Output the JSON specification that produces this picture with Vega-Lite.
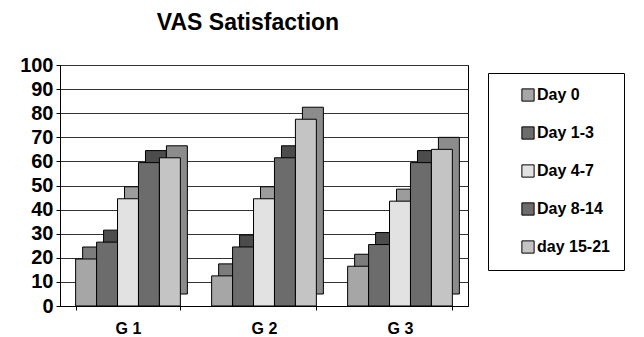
{
  "$schema": "https://vega.github.io/schema/vega-lite/v6.json",
  "width": 408,
  "height": 241,
  "autosize": {"type": "none"},
  "padding": {"left": 60, "top": 65, "right": 176, "bottom": 31},
  "background": "white",
  "title": {"text": "VAS Satisfaction", "fontSize": 23, "font": "Liberation Sans", "fontWeight": "bold", "anchor": "middle", "dx": -16, "offset": 20, "color": "black"},
  "data": {"values": [
    {"group": "G 1", "period": "Day 0", "value": 19.5},
    {"group": "G 1", "period": "Day 1-3", "value": 26.5},
    {"group": "G 1", "period": "Day 4-7", "value": 44.5},
    {"group": "G 1", "period": "Day 8-14", "value": 59.5},
    {"group": "G 1", "period": "day 15-21", "value": 61.5},
    {"group": "G 2", "period": "Day 0", "value": 12.5},
    {"group": "G 2", "period": "Day 1-3", "value": 24.5},
    {"group": "G 2", "period": "Day 4-7", "value": 44.5},
    {"group": "G 2", "period": "Day 8-14", "value": 61.5},
    {"group": "G 2", "period": "day 15-21", "value": 77.5},
    {"group": "G 3", "period": "Day 0", "value": 16.5},
    {"group": "G 3", "period": "Day 1-3", "value": 25.5},
    {"group": "G 3", "period": "Day 4-7", "value": 43.5},
    {"group": "G 3", "period": "Day 8-14", "value": 59.5},
    {"group": "G 3", "period": "day 15-21", "value": 65}
  ]},
  "encoding": {
    "x": {
      "field": "group", "type": "nominal",
      "scale": {"paddingInner": 0.23, "paddingOuter": 0.115},
      "axis": {"title": null, "labelAngle": 0, "labelFont": "Liberation Sans", "labelFontWeight": "bold", "labelFontSize": 16, "labelColor": "black", "tickBand": "extent", "tickSize": 4, "tickColor": "black", "domainColor": "black", "labelPadding": 10}
    },
    "y": {
      "field": "value", "type": "quantitative",
      "scale": {"domain": [0, 100]},
      "axis": {"title": null, "values": [0, 10, 20, 30, 40, 50, 60, 70, 80, 90, 100], "labelFont": "Liberation Sans", "labelFontWeight": "bold", "labelFontSize": 20, "labelColor": "black", "tickSize": 4, "tickColor": "black", "domainColor": "black", "labelPadding": 3, "grid": true, "gridColor": "#333333", "gridWidth": 1}
    }
  },
  "layer": [
    {
      "mark": {"type": "bar", "yOffset": -12, "stroke": "black", "strokeWidth": 1},
      "encoding": {
        "xOffset": {"field": "period", "type": "nominal", "sort": ["Day 0", "Day 1-3", "Day 4-7", "Day 8-14", "day 15-21"], "scale": {"range": [7, 111.72]}},
        "color": {"field": "period", "type": "nominal",
          "scale": {"domain": ["Day 0", "Day 1-3", "Day 4-7", "Day 8-14", "day 15-21"], "range": ["#7c7c7c", "#4c4c4c", "#9c9c9c", "#4c4c4c", "#8c8c8c"]},
          "legend": null}
      }
    },
    {
      "mark": {"type": "bar", "stroke": "black", "strokeWidth": 1},
      "encoding": {
        "xOffset": {"field": "period", "type": "nominal", "sort": ["Day 0", "Day 1-3", "Day 4-7", "Day 8-14", "day 15-21"]},
        "color": {"field": "period", "type": "nominal",
          "scale": {"domain": ["Day 0", "Day 1-3", "Day 4-7", "Day 8-14", "day 15-21"], "range": ["#a6a6a6", "#6c6c6c", "#e2e2e2", "#6c6c6c", "#c4c4c4"]},
          "legend": {"title": null, "orient": "none", "legendX": 428, "legendY": 8, "padding": 14, "strokeColor": "black", "fillColor": "white", "symbolType": "square", "symbolSize": 150, "symbolStrokeColor": "black", "symbolStrokeWidth": 1, "symbolOffset": 18, "labelOffset": 1, "labelFont": "Liberation Sans", "labelFontWeight": "bold", "labelFontSize": 16, "labelColor": "black", "rowPadding": 20}}
      }
    }
  ],
  "resolve": {"scale": {"color": "independent", "xOffset": "independent"}},
  "config": {"view": {"stroke": "black", "strokeWidth": 1}}
}
